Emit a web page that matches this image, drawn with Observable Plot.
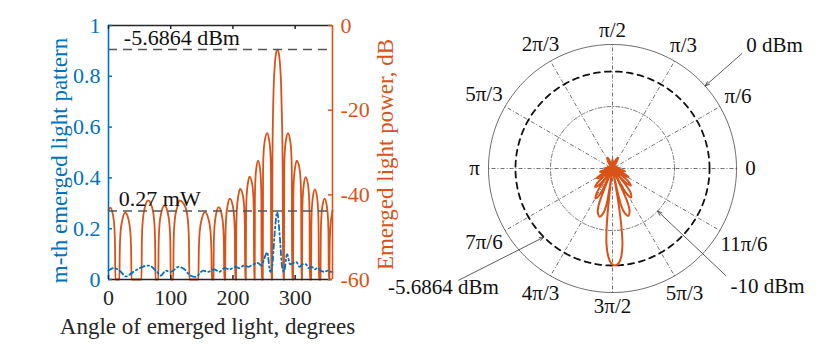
<!DOCTYPE html>
<html>
<head>
<meta charset="utf-8">
<script src="https://cdn.jsdelivr.net/npm/d3@7"></script>
<script src="https://cdn.jsdelivr.net/npm/@observablehq/plot@0.6"></script>
<style>
  html, body { margin: 0; padding: 0; background: #fff; }
  #wrap { position: relative; width: 830px; height: 347px; overflow: hidden; background: #fff; }
  #wrap svg { position: absolute; top: 0; }
  #wrap svg, #wrap svg text { font-family: "Liberation Serif", "Times New Roman", serif !important; }
</style>
</head>
<body>
<div id="wrap"></div>
<script>
// ---------- data ----------
// Emerged light power (dB) vs angle (degrees)
const powerAngle = [
  0, 3, 7, 9.4, 10.5, 11,
  17.5, 18.1, 19.45, 22.4, 27, 32.1, 35.05, 36.4, 37,
  53, 53.7, 55.25, 58.6, 63.5, 69.9, 73.25, 74.8, 75.5,
  80, 80.6, 82, 85, 90, 95, 98, 99.4, 100,
  104, 104.8, 106.6, 110.5, 114, 123.5, 127.4, 129.2, 130,
  144.5, 145.15, 146.65, 149.9, 155, 160.6, 163.85, 165.35, 166,
  168.7, 169.2, 170.4, 173, 177, 181.7, 184.3, 185.5, 186,
  187.5, 188, 189.1, 191.5, 195, 199.6, 202, 203.1, 203.6,
  205, 205.4, 206.5, 208.7, 211.5, 216, 218.1, 219.2, 219.6,
  220.7, 221.1, 222, 224, 226.5, 230.7, 232.7, 233.6, 234,
  235, 235.3, 236.1, 237.75, 240.5, 243.25, 244.9, 245.7, 246,
  248, 248.4, 249.35, 251.4, 255, 258.1, 260.15, 261.1, 261.5,
  263, 263.5, 264.4, 265.6, 267.2, 269, 271.5, 274, 275.8, 277.4, 278.6, 279.8, 280.7,
  282, 282.4, 283.3, 285.25, 288.5, 291.75, 293.7, 294.6, 295,
  296.6, 297, 297.9, 299.95, 302.5, 306.65, 308.65, 309.6, 310,
  311, 311.4, 312.25, 314.1, 316.8, 320.4, 322.25, 323.1, 323.5,
  325.6, 326, 326.85, 328.7, 331.6, 334.9, 336.75, 337.6, 338,
  340.7, 341.1, 342, 344, 347.5, 350.7, 352.7, 353.6, 354,
  355, 355.5, 356.6, 359, 360
];
const powerDb = [
  -43.6, -43, -44.6, -47.5, -52, -60,
  -60, -53.2, -48.7, -45.8, -44.2, -45.8, -48.7, -53.2, -60,
  -60, -50.3, -45.8, -42.9, -41.3, -42.9, -45.8, -50.3, -60,
  -60, -51.5, -47, -44.1, -42.5, -44.1, -47, -51.5, -60,
  -60, -50.3, -45.8, -42.9, -41.3, -42.9, -45.8, -50.3, -60,
  -60, -53.1, -48.6, -45.7, -44.1, -45.7, -48.6, -53.1, -60,
  -60, -51.9, -47.4, -44.5, -42.9, -44.5, -47.4, -51.9, -60,
  -60, -49.9, -45.4, -42.5, -40.9, -42.5, -45.4, -49.9, -60,
  -60, -47.6, -43.1, -40.2, -38.6, -40.2, -43.1, -47.6, -60,
  -60, -44.7, -40.2, -37.3, -35.7, -37.3, -40.2, -44.7, -60,
  -60, -40.9, -36.4, -33.5, -31.9, -33.5, -36.4, -40.9, -60,
  -60, -34.4, -29.9, -27, -25.4, -27, -29.9, -34.4, -60,
  -60, -32, -21, -14, -9.5, -6.8, -5.6864, -6.8, -9.5, -14, -21, -32, -60,
  -60, -34.4, -29.9, -27, -25.4, -27, -29.9, -34.4, -60,
  -60, -40.9, -36.4, -33.5, -31.9, -33.5, -36.4, -40.9, -60,
  -60, -44.8, -40.3, -37.4, -35.8, -37.4, -40.3, -44.8, -60,
  -60, -47.7, -43.2, -40.3, -38.7, -40.3, -43.2, -47.7, -60,
  -60, -49.9, -45.4, -42.5, -40.9, -42.5, -45.4, -49.9, -60,
  -60, -52, -47.5, -44.6, -43.6
];
// m-th emerged light pattern (linear) vs angle
const patternAngle = [0, 8, 18, 28, 40, 55, 65, 78, 84, 92, 100, 113, 122, 132, 140, 152, 160, 170, 178, 186,
  195, 203, 210, 218, 225, 233, 240, 246, 250, 255, 260, 263, 267, 271, 275, 279, 282, 287, 292, 297,
  302, 307, 312, 317, 322, 327, 331, 336, 341, 347, 352, 358, 360];
const patternVal = [0.035, 0.045, 0.035, 0.012, 0.03, 0.05, 0.055, 0.03, 0.015, 0.035, 0.03, 0.05, 0.04, 0.015, 0.01, 0.035, 0.03, 0.04, 0.03, 0.045,
  0.04, 0.05, 0.045, 0.055, 0.05, 0.06, 0.065, 0.055, 0.08, 0.107, 0.03, 0.05, 0.18, 0.265, 0.18, 0.05, 0.03, 0.1, 0.06, 0.065,
  0.068, 0.05, 0.06, 0.06, 0.045, 0.05, 0.04, 0.045, 0.035, 0.03, 0.035, 0.03, 0.03];

const xTicks = [0, 100, 200, 300];
const yTicks = [0, 0.2, 0.4, 0.6, 0.8, 1];
const dbTicks = [0, -20, -40, -60];
const peakDb = -5.6864;
const peakMw = 0.27;
const peakDbLabel = "-5.6864 dBm";
const peakMwLabel = "0.27 mW";
const xLabel = "Angle of emerged light, degrees";
const yLeftLabel = "m-th emerged light pattern";
const yRightLabel = "Emerged light power, dB";

const polarAngles = [0, 30, 60, 90, 120, 150, 180, 210, 240, 270, 300, 330];
const polarLabels = ["0", "π/6", "π/3", "π/2", "2π/3", "5π/3", "π", "7π/6", "4π/3", "3π/2", "5π/3", "11π/6"];
const annotLabels = ["0 dBm", "-10 dBm", "-5.6864 dBm"];

// ---------- styling ----------
const BLUE = "#0072BD", ORANGE = "#D95319", INK = "#262626";
const FONT = "Liberation Serif";

const dbToY = db => (db + 60) / 60;        // right axis mapped onto left axis [0,1]
const yToDb = y => Math.round(y * 60 - 60);

const power = powerAngle.map((a, i) => ({a, db: powerDb[i]}));
const pattern = patternAngle.map((a, i) => ({a, v: patternVal[i]}));

// ---------- left cartesian panel ----------
const plotW = 420 - 108 - 88, plotH = 347 - 25 - 68;
const left = Plot.plot({
  width: 420, height: 347,
  marginLeft: 108, marginRight: 88, marginTop: 25, marginBottom: 68,
  x: {domain: [0, 360]},
  y: {domain: [0, 1]},
  style: {fontFamily: FONT, fontSize: "22px", background: "transparent", overflow: "visible"},
  marks: [
    Plot.axisY(yTicks, {anchor: "left", tickSize: 0, tickPadding: 8, fill: BLUE, fontSize: 22, fontFamily: FONT, tickFormat: d => String(d), label: null}),
    Plot.axisY(dbTicks.map(dbToY), {anchor: "right", tickSize: 0, tickPadding: 8, fill: ORANGE, fontSize: 22, fontFamily: FONT, tickFormat: d => String(yToDb(d)), label: null}),
    Plot.axisX(xTicks, {anchor: "bottom", tickSize: 0, tickPadding: 10, fill: INK, fontSize: 22, fontFamily: FONT, label: null}),
    Plot.line(power, {x: "a", y: d => dbToY(d.db), stroke: ORANGE, strokeWidth: 1.8, curve: "monotone-x"}),
    Plot.line(pattern, {x: "a", y: "v", stroke: BLUE, strokeWidth: 1.8, strokeDasharray: "5,3,1.5,3", curve: "monotone-x"}),
    Plot.ruleY([peakMw, dbToY(peakDb)], {stroke: "#555", strokeWidth: 1.5, strokeDasharray: "9,6"}),
    Plot.text([peakDbLabel], {x: 24.6, y: dbToY(peakDb), dy: -12, textAnchor: "start", fill: "#111", fontSize: 22, fontFamily: FONT}),
    Plot.text([peakMwLabel], {x: 16.6, y: peakMw, dy: -12, textAnchor: "start", fill: "#111", fontSize: 22, fontFamily: FONT}),
    // frame
    Plot.ruleY([0, 1], {stroke: INK, strokeWidth: 1.5}),
    Plot.ruleX([0], {stroke: BLUE, strokeWidth: 1.6}),
    Plot.ruleX([360], {stroke: ORANGE, strokeWidth: 1.6}),
    // inward ticks
    Plot.tickY(yTicks, {y: d => d, stroke: BLUE, strokeWidth: 1.5, insetRight: plotW - 4}),
    Plot.tickY(dbTicks.map(dbToY), {y: d => d, stroke: ORANGE, strokeWidth: 1.5, insetLeft: plotW - 4}),
    Plot.tickX(xTicks, {x: d => d, stroke: INK, strokeWidth: 1.5, insetTop: plotH - 4}),
    Plot.tickX(xTicks, {x: d => d, stroke: INK, strokeWidth: 1.5, insetBottom: plotH - 4}),
    // axis titles
    Plot.text([yLeftLabel], {frameAnchor: "left", textAnchor: "middle", lineAnchor: "middle", dx: -49, dy: 8, rotate: -90, fill: BLUE, fontSize: 23, fontFamily: FONT}),
    Plot.text([yRightLabel], {frameAnchor: "right", textAnchor: "middle", lineAnchor: "middle", dx: 53, dy: 2, rotate: -90, fill: ORANGE, fontSize: 23, fontFamily: FONT}),
    Plot.text([xLabel], {frameAnchor: "bottom", textAnchor: "middle", lineAnchor: "middle", dx: -13, dy: 47, fill: INK, fontSize: 23, fontFamily: FONT})
  ]
});
left.style.left = "0px";

// ---------- right polar panel ----------
const PW = 460, PH = 347, CX = 242, CY = 168, R = 124;
const rScale = d3.scaleLinear().domain([-46.3, 5.6]).range([0, R]).clamp(true);
const rad = deg => deg * Math.PI / 180;
const px = (deg, r) => r * Math.cos(rad(deg));
const py = (deg, r) => r * Math.sin(rad(deg));
const ring = d3.range(0, 361, 1);
const dashR = rScale(peakDb);

// annotation geometry (target ring radius & angle, arrow start, label centre) in panel units
const annot = [
  {t: annotLabels[0], ta: 41.7, tr: R,        sa: 41.6, sr: 173, lx: 162, ly: 123},
  {t: annotLabels[1], ta: -43.3, tr: R / 2,   sa: -43.4, sr: 156, lx: 155, ly: -118},
  {t: annotLabels[2], ta: 225,  tr: dashR,    sa: 216,  sr: 190, lx: -169, ly: -119}
];

const labelR = (t, a) => R + 14 + 4 * (t.length - 1) * Math.abs(Math.cos(rad(a)));
const polarTicks = polarAngles.map((a, i) => ({a, t: polarLabels[i]}));

const polar = Plot.plot({
  width: PW, height: PH, margin: 0,
  x: {domain: [-CX, PW - CX], axis: null},
  y: {domain: [-(PH - CY), CY], axis: null},
  style: {fontFamily: FONT, fontSize: "21px", background: "transparent", overflow: "visible"},
  marks: [
    Plot.link(polarAngles, {x1: 0, y1: 0, x2: a => px(a, R), y2: a => py(a, R), stroke: "#333", strokeWidth: 0.7, strokeDasharray: "4,2,1,2"}),
    Plot.line(ring, {x: a => px(a, R / 2), y: a => py(a, R / 2), stroke: "#333", strokeWidth: 0.7, strokeDasharray: "4,2,1,2"}),
    Plot.line(ring, {x: a => px(a, R), y: a => py(a, R), stroke: "#444", strokeWidth: 0.8}),
    Plot.line(ring, {x: a => px(a, dashR), y: a => py(a, dashR), stroke: "#111", strokeWidth: 1.8, strokeDasharray: "6,5"}),
    Plot.line(power, {x: d => px(d.a, rScale(d.db)), y: d => py(d.a, rScale(d.db)), stroke: ORANGE, strokeWidth: 2, curve: "catmull-rom"}),
    Plot.text(polarTicks, {x: d => px(d.a, labelR(d.t, d.a)), y: d => py(d.a, labelR(d.t, d.a)),
      text: "t", fill: "#111", fontSize: 21, fontFamily: FONT}),
    Plot.arrow(annot, {x1: d => px(d.sa, d.sr), y1: d => py(d.sa, d.sr), x2: d => px(d.ta, d.tr), y2: d => py(d.ta, d.tr),
      stroke: "#333", strokeWidth: 0.8, headLength: 9, headAngle: 40}),
    Plot.text(annot, {x: "lx", y: "ly", text: "t", fill: "#111", fontSize: 21, fontFamily: FONT})
  ]
});
polar.style.left = (612 - CX) + "px";

const wrap = document.getElementById("wrap");
wrap.appendChild(left);
wrap.appendChild(polar);
</script>
</body>
</html>
